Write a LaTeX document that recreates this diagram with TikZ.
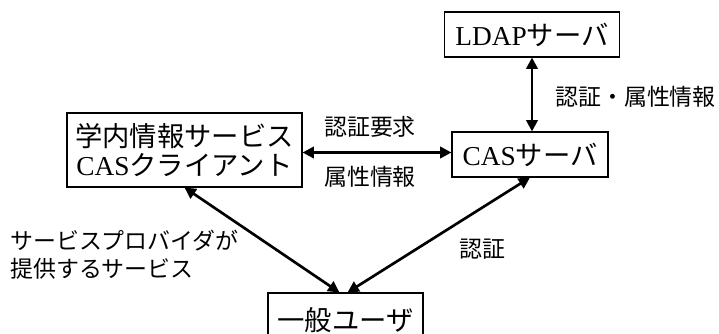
\documentclass[tikz,border=0pt]{standalone}
\usepackage{fontspec}
\setmainfont{Liberation Serif}
\newfontfamily\jp{Noto Sans CJK JP}
\usetikzlibrary{arrows.meta}
\begin{document}
\begin{tikzpicture}[x=0.75pt,y=-0.75pt,
  box/.style={draw,line width=0.8pt,inner sep=0pt,font=\fontsize{20.5}{25}\selectfont,align=center},
  lbl/.style={font=\jp\fontsize{17.2}{20}\selectfont,inner sep=0pt},
  arr/.style={line width=2pt,{Triangle[length=8.5pt,width=8.5pt]}-{Triangle[length=8.5pt,width=8.5pt]}}]
\clip (0,0) rectangle (719,333);
\node[box,minimum width=175*0.75pt,minimum height=45*0.75pt] (ldap) at (532,34.5) {LDAP{\jp サーバ}};
\node[box,minimum width=156*0.75pt,minimum height=45*0.75pt] (cas) at (530,154.5) {CAS{\jp サーバ}};
\node[box,minimum width=235*0.75pt,minimum height=74*0.75pt] (client) at (184.5,150) {{\jp 学内情報サービス}\\[-3pt]CAS{\jp クライアント}};
\node[box,minimum width=155*0.75pt,minimum height=56*0.75pt] (user) at (345.5,321) {\raisebox{3pt}{\jp 一般ユーザ}};
\draw[arr] (ldap.south) -- (ldap.south |- cas.north);
\draw[arr] ([yshift=1.5pt]client.east |- cas.west) -- ([yshift=1.5pt]cas.west);
\draw[arr] (client.south) -- ([xshift=-4.5pt]user.north);
\draw[arr] (cas.south) -- ([xshift=1.5pt]user.north);
\node[lbl,anchor=west] (l1) at (555,97) {認証・属性情報};
\node[lbl] (l2) at (370,127) {認証要求};
\node[lbl] (l3) at (370,177) {属性情報};
\node[lbl,anchor=west,align=left] (l4) at (10,255) {サービスプロバイダが\\[1pt]提供するサービス};
\node[lbl] (l5) at (482,249) {認証};
\end{tikzpicture}
\end{document}
